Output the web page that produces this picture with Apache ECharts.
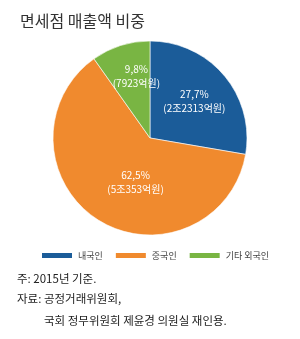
<!DOCTYPE html>
<html><head><meta charset="utf-8">
<script src="https://cdn.jsdelivr.net/npm/echarts@6/dist/echarts.min.js"></script>
<style>html,body{margin:0;padding:0;background:#fff}#c{width:300px;height:339px}</style>
</head><body><div id="c"></div>
<script>
const categories = ['내국인', '중국인', '기타 외국인'];
const shares = [27.7, 62.5, 9.8];
const shareLabels = ['27,7%', '62,5%', '9,8%'];
const amountLabels = ['(2조2313억원)', '(5조353억원)', '(7923억원)'];
const colors = ['#1b5c99', '#f08a2e', '#79b543'];
const offsets = [[5, -4], [13, 1], [2, -13]];
const font = '"Noto Sans CJK KR", "Noto Sans", sans-serif';

const chart = echarts.init(document.getElementById('c'), null, {renderer: 'canvas'});
chart.setOption({
  animation: false,
  color: colors,
  title: {
    text: '면세점 매출액 비중', left: 15, top: 8,
    textStyle: {fontFamily: font, fontSize: 16, fontWeight: 'normal', color: '#333'}
  },
  legend: {
    data: categories, left: 40, top: 251, padding: 0, itemWidth: 32, itemHeight: 7, itemGap: 11,
    icon: 'rect',
    textStyle: {fontFamily: font, fontSize: 9, color: '#444'}
  },
  graphic: [
    {type: 'text', left: 17, top: 273, style: {text: '주: 2015년 기준.', font: '11.5px ' + font, fill: '#222'}},
    {type: 'text', left: 17, top: 293, style: {text: '자료: 공정거래위원회,', font: '11.5px ' + font, fill: '#222'}},
    {type: 'text', left: 44, top: 315, style: {text: '국회 정무위원회 제윤경 의원실 재인용.', font: '11.5px ' + font, fill: '#222'}}
  ],
  series: [{
    type: 'pie', center: [150, 138], radius: 97, startAngle: 90, clockwise: true,
    itemStyle: {borderColor: '#fff', borderWidth: 0.6},
    label: {
      position: 'inside', color: '#fff', fontFamily: font, fontSize: 10, lineHeight: 14,
      formatter: p => shareLabels[p.dataIndex] + '\n' + amountLabels[p.dataIndex]
    },
    labelLine: {show: false},
    data: categories.map((c, i) => ({name: c, value: shares[i], label: {offset: offsets[i]}}))
  }]
});
</script></body></html>
